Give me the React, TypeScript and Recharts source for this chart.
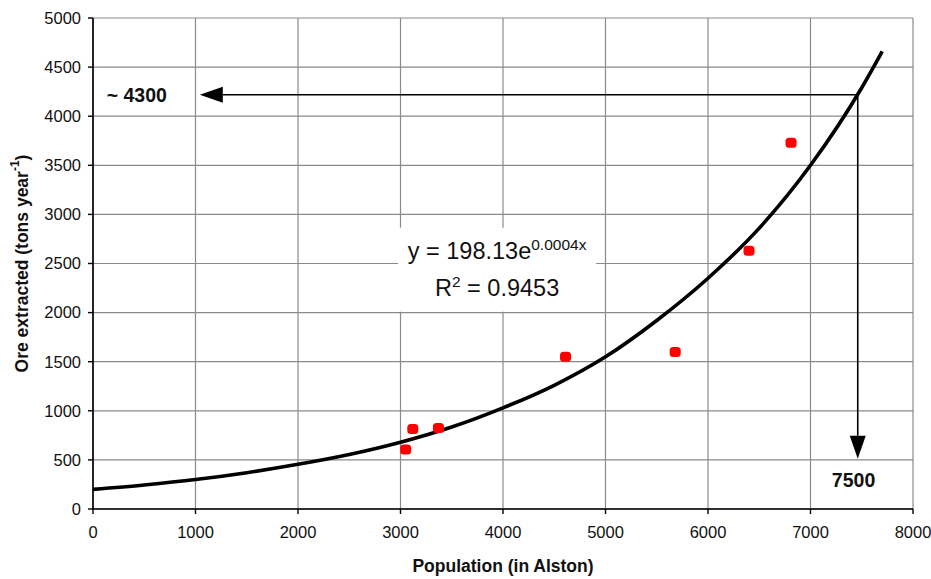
import * as React from 'react';
import {
  ComposedChart,
  Line,
  Scatter,
  XAxis,
  YAxis,
  CartesianGrid,
  ReferenceLine,
  ReferenceArea,
  ReferenceDot,
} from 'recharts';

// observed mining years: population vs ore extracted
const popObserved = [3050, 3120, 3370, 4610, 5680, 6400, 6810];
const oreObserved = [605, 815, 825, 1550, 1600, 2630, 3730];

// exponential trendline
const popTrend = [0, 500, 1000, 1500, 2000, 2500, 3000, 3500, 4000, 4500, 5000, 5500, 6000, 6500, 7000, 7500, 7700];
const oreTrend = [200, 245, 300, 370, 455, 555, 680, 835, 1030, 1260, 1550, 1920, 2350, 2860, 3500, 4290, 4660];

const xTicks = [0, 1000, 2000, 3000, 4000, 5000, 6000, 7000, 8000];
const yTicks = [0, 500, 1000, 1500, 2000, 2500, 3000, 3500, 4000, 4500, 5000];

// projection: population 7500 -> ~4300 tons
const projX = 7461;
const projY = 4219;
const arrowEndX = 1042;
const arrowEndY = 512;

const FONT = '"Liberation Sans", Arial, sans-serif';

const points = popObserved.map((x, i) => ({ x, y: oreObserved[i] }));
const trend = popTrend.map((x, i) => ({ x, y: oreTrend[i] }));

/** line with a filled arrowhead at (x2, y2) */
function Arrow(props: any) {
  const { x1, y1, x2, y2 } = props;
  if (x1 == null || x2 == null) return null;
  const dx = x2 - x1;
  const dy = y2 - y1;
  const len = Math.sqrt(dx * dx + dy * dy) || 1;
  const ux = dx / len;
  const uy = dy / len;
  const headLen = 23;
  const half = 8;
  const bx = x2 - ux * headLen;
  const by = y2 - uy * headLen;
  const pts = [
    `${x2},${y2}`,
    `${bx - uy * half},${by + ux * half}`,
    `${bx + uy * half},${by - ux * half}`,
  ].join(' ');
  return (
    <g>
      <line x1={x1} y1={y1} x2={bx} y2={by} stroke="#000" strokeWidth={1.6} />
      <polygon points={pts} fill="#000" />
    </g>
  );
}

function OreMarker(props: any) {
  const { cx, cy } = props;
  return <rect x={cx - 5.5} y={cy - 5} width={11} height={10} rx={3.5} fill="#ff0000" />;
}

function EquationLabel(props: any) {
  const { viewBox } = props;
  if (!viewBox) return null;
  const cx = viewBox.x + viewBox.width / 2;
  const top = viewBox.y;
  return (
    <g fontFamily={FONT} fill="#111">
      <text x={cx} y={top + 31} textAnchor="middle" fontSize={23.5}>
        y = 198.13e
        <tspan fontSize={15.5} dy={-9}>0.0004x</tspan>
      </text>
      <text x={cx} y={top + 68} textAnchor="middle" fontSize={23.5}>
        R<tspan fontSize={15.5} dy={-9}>2</tspan>
        <tspan dy={9}> = 0.9453</tspan>
      </text>
    </g>
  );
}

const boldLabel = (text: string) => (props: any) => {
  const { viewBox } = props;
  if (!viewBox) return null;
  return (
    <text
      x={viewBox.x}
      y={viewBox.y}
      textAnchor="middle"
      dominantBaseline="central"
      fontFamily={FONT}
      fontWeight="bold"
      fontSize={19.5}
      fill="#111"
    >
      {text}
    </text>
  );
};

const hidden = () => <g />;

export default function App() {
  return (
    <div style={{ position: 'absolute', left: 0, top: 0, width: 931, height: 579, background: '#fff' }}>
      <ComposedChart
        width={931}
        height={579}
        margin={{ top: 18, right: 18, left: 0, bottom: 0 }}
      >
        <CartesianGrid stroke="#8a8a8a" strokeWidth={1.2} />
        <XAxis
          type="number"
          dataKey="x"
          domain={[0, 8000]}
          ticks={xTicks}
          interval={0}
          height={70}
          tickSize={5}
          tickMargin={12}
          axisLine={{ stroke: '#000', strokeWidth: 1.6 }}
          tickLine={{ stroke: '#000', strokeWidth: 1.4 }}
          tick={{ fill: '#111', fontSize: 16.5, fontFamily: FONT }}
          label={{
            content: (p: any) => {
              const vb = p.viewBox;
              return (
                <text
                  x={vb.x + vb.width / 2}
                  y={vb.y + 63}
                  textAnchor="middle"
                  fontFamily={FONT}
                  fontWeight="bold"
                  fontSize={17.5}
                  fill="#111"
                >
                  Population (in Alston)
                </text>
              );
            },
          }}
        />
        <YAxis
          type="number"
          dataKey="y"
          domain={[0, 5000]}
          ticks={yTicks}
          interval={0}
          width={93}
          tickSize={5}
          tickMargin={7}
          axisLine={{ stroke: '#000', strokeWidth: 1.6 }}
          tickLine={{ stroke: '#000', strokeWidth: 1.4 }}
          tick={{ fill: '#111', fontSize: 16.5, fontFamily: FONT }}
          label={{
            content: (p: any) => {
              const vb = p.viewBox;
              const cy = vb.y + vb.height / 2;
              return (
                <text
                  x={22}
                  y={cy}
                  textAnchor="middle"
                  dominantBaseline="central"
                  transform={`rotate(-90, 22, ${cy})`}
                  fontFamily={FONT}
                  fontWeight="bold"
                  fontSize={17.5}
                  fill="#111"
                >
                  Ore extracted (tons year<tspan fontSize={12} dy={-7}>-1</tspan>
                  <tspan dy={7}>)</tspan>
                </text>
              );
            },
          }}
        />
        <ReferenceArea
          x1={2976}
          x2={4909}
          y1={2009}
          y2={2865}
          fill="#fff"
          fillOpacity={1}
          stroke="none"
          label={<EquationLabel />}
        />
        <ReferenceLine
          segment={[{ x: projX, y: projY }, { x: arrowEndX, y: projY }]}
          shape={Arrow}
        />
        <ReferenceLine
          segment={[{ x: projX, y: projY }, { x: projX, y: arrowEndY }]}
          shape={Arrow}
        />
        <ReferenceDot x={427} y={projY} r={0} shape={hidden} label={{ content: boldLabel('~ 4300') }} />
        <ReferenceDot x={7420} y={298} r={0} shape={hidden} label={{ content: boldLabel('7500') }} />
        <Line
          data={trend}
          dataKey="y"
          type="monotone"
          stroke="#000"
          strokeWidth={3.6}
          dot={false}
          activeDot={false}
          isAnimationActive={false}
        />
        <Scatter data={points} dataKey="y" shape={<OreMarker />} isAnimationActive={false} />
      </ComposedChart>
    </div>
  );
}
